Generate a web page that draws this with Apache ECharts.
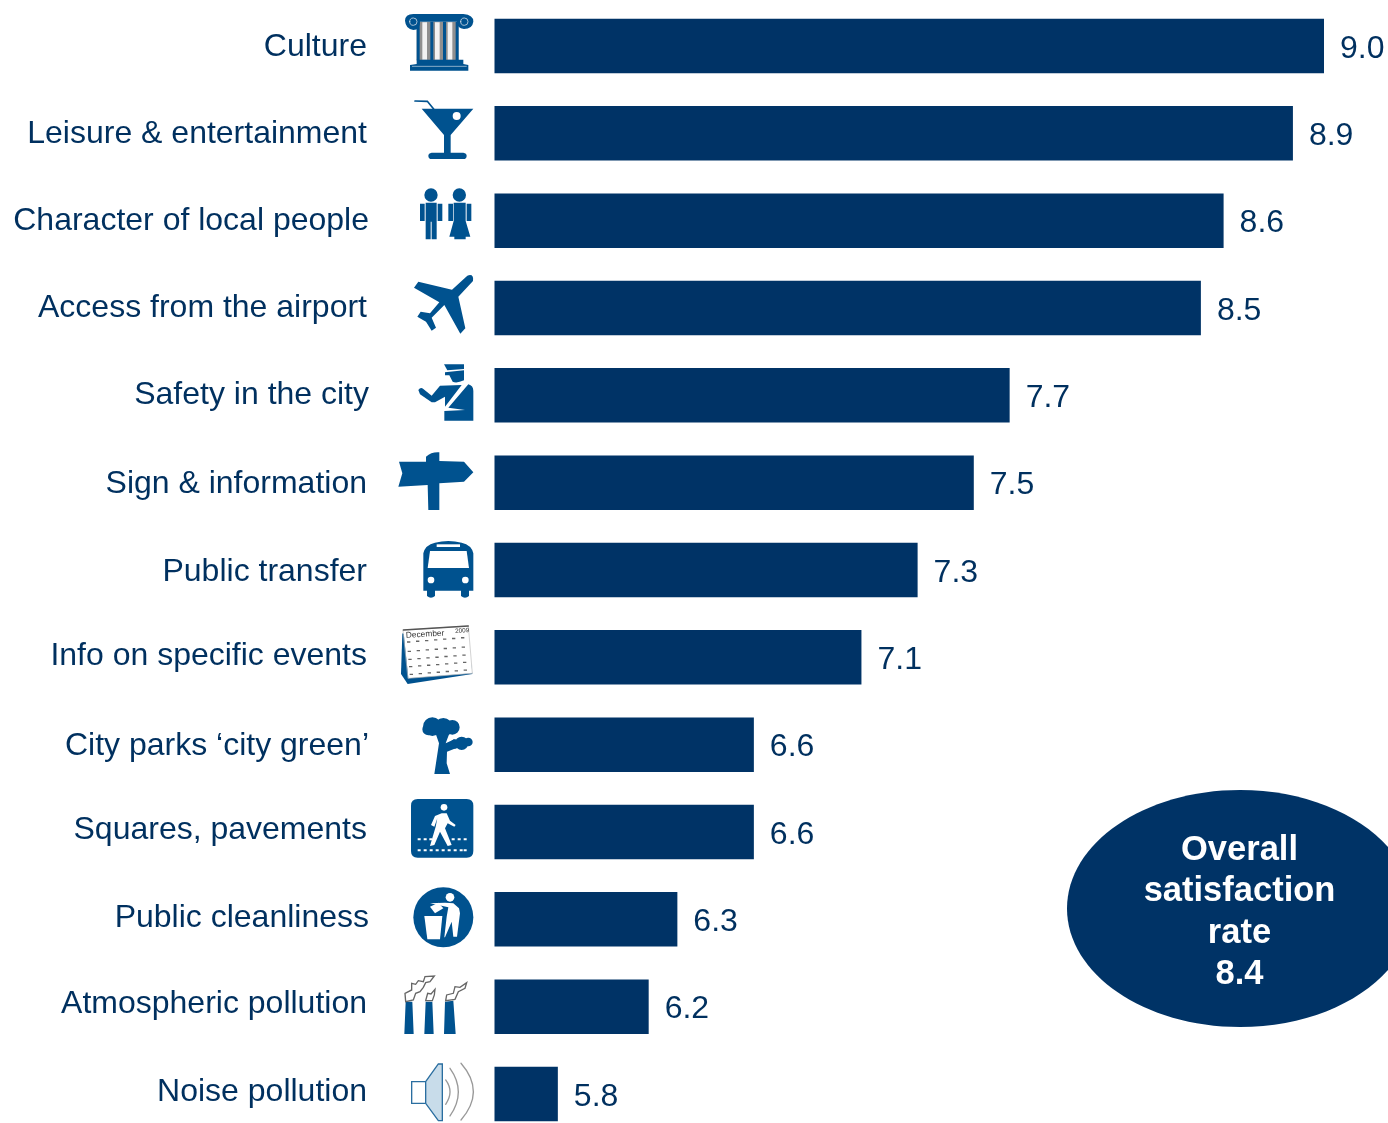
<!DOCTYPE html>
<html>
<head>
<meta charset="utf-8">
<style>html,body{margin:0;padding:0;background:#fff;overflow:hidden}#c{width:1388px;height:1123px}</style>
<script src="https://cdn.jsdelivr.net/npm/echarts@6/dist/echarts.min.js"></script>
</head>
<body>
<div id="c"></div>
<script>
const categories = ['Culture','Leisure & entertainment','Character of local people','Access from the airport','Safety in the city','Sign & information','Public transfer','Info on specific events','City parks ‘city green’','Squares, pavements','Public cleanliness','Atmospheric pollution','Noise pollution'];
const barValues = [9.0,8.87,8.58,8.485,7.685,7.535,7.30,7.065,6.615,6.615,6.295,6.175,5.795];
const valueLabels = ['9.0','8.9','8.6','8.5','7.7','7.5','7.3','7.1','6.6','6.6','6.3','6.2','5.8'];
const overallLines = ['Overall','satisfaction','rate','8.4'];

const NAVY = '#003366', TEXT = '#00305f', BLUE = '#00528f';
const labelUp = [-1,-1,-1,0,0,-2,-2,1,-2,2,1,2,2];
const labelRightGap = [2,2,0,2,0,2,2,2,0,2,0,2,2];

const circ = (cx,cy,r) => `M${cx-r} ${cy}a${r} ${r} 0 1 0 ${2*r} 0a${r} ${r} 0 1 0 ${-2*r} 0Z`;
const dashes = (xs,y,w,h) => xs.map(x => `M${x} ${y}h${w}v${h}h${-w}Z`).join('');

// Each icon: crop origin it was traced in, then [path, fill, stroke, strokeWidth]
const icons = [
 {o:[395,5], p:[
  ['M65 50H190V166H65Z','#8f8f8f'],
  [dashes([82,120,158],52,14,112),'#f2f2f2'],
  [dashes([65,106,144,182],50,9,116),BLUE],
  ['M30 47Q30 28 55 27L205 27Q236 30 235 50Q232 72 207 72Q186 70 186 50L75 50Q75 75 55 75Q32 72 30 47Z',BLUE],
  [circ(55,50,11),'none','#c9d6e2',2.5],[circ(208,50,11),'none','#c9d6e2',2.5],
  ['M65 164H205V177L220 180V197H45V180L65 177Z',BLUE],
  ['M52 184H214','none','#cfdbe6',2]
 ]},
 {o:[395,5], p:[
  ['M60 288L97 289L116 312','none',BLUE,5],
  ['M80 311H235L167 390V443H205Q215 445 215 452Q215 462 205 462H110Q100 462 100 452Q100 445 110 443H147V390Z',BLUE],
  [circ(185,333,12),'#fff']
 ]},
 {o:[395,5], p:[
  [circ(108,570,20)+circ(193,570,20),BLUE],
  ['M92 593H125V703H110V650H107V703H92Z',BLUE],
  ['M75 596H89V648H75ZM128 596H142V648H128Z',BLUE],
  ['M176 593H212V648L226 695H212V703H178V695H163L176 648Z',BLUE],
  ['M160 596H174V648H160ZM215 596H229V648H215Z',BLUE]
 ]},
 {o:[390,265], p:[
  ['M232 32Q252 25 249 48L205 95L226 190L211 206L163 120L125 158L138 188L125 197L108 170L82 155L92 140L120 145L148 112L72 68L85 50L186 74Z',BLUE]
 ]},
 {o:[390,265], p:[
  ['M162 298H222V312L172 316Z',BLUE],
  ['M165 322L222 316V346Q200 356 188 350L178 331L165 331Z',BLUE],
  ['M85 375Q92 365 100 372L125 392L150 362L215 360L165 425V395L135 412H125L90 388Z',BLUE],
  ['M235 358Q250 362 250 378V467H163V438L225 435L175 428Z',BLUE]
 ]},
 {o:[390,265], p:[
  ['M108 575Q125 560 148 562V588L222 590L250 622L222 650L148 655V735H115L113 660L25 665L37 625L27 590L108 590Z',BLUE]
 ]},
 {o:[395,530], p:[
  ['M85 182V70Q90 45 120 38Q160 28 200 38Q230 45 235 70V182H222V198Q210 208 198 198V182H120V198Q108 208 96 198V182Z',BLUE],
  ['M105 63H215L222 114H98Z','#fff'],
  ['M125 43H195V51H125Z','#fff'],
  [circ(108,150,10)+circ(211,150,10),'#fff']
 ]},
 {o:[395,530], cal:true, p:[
  ['M22 310L18 432L38 462L232 432L228 400Z',BLUE],
  ['M25 300L220 288L232 430L40 445Z','#fff','#bdbdbd',2],
  ['M25 300L220 288','none','#555',4],
  [[[36,334],[38,362],[40,386],[42,408],[44,431]].map(([x,y]) => [0,1,2,3,4,5,6].map(i => `M${x+i*27} ${y-i*2.1}h10v4h-10Z`).join('')).join(''),'#666']
 ]},
 {o:[395,530], p:[
  [circ(112,590,28)+circ(145,592,28)+circ(172,592,22)+circ(100,598,18)+circ(200,640,20)+circ(180,642,14)+circ(220,636,13),BLUE],
  ['M118 732L132 640L120 605H165L152 640L178 628L190 652L156 665L155 700L165 732Z',BLUE]
 ]},
 {o:[395,790], p:[
  ['M68 27H215Q235 27 235 47V183Q235 203 215 203H68Q48 203 48 183V47Q48 27 68 27Z',BLUE],
  [circ(147,52,10),'#fff'],
  ['M140 70H155L165 92L182 105L178 110L158 100L150 115L170 165L158 168L135 125L118 165L105 168L122 110L127 85L118 110L108 105L120 78Z','#fff'],
  [dashes([68,86,103,170,188,206],145,9,6),'#fff'],
  [dashes([68,86,104,122,140,158,176,194,206],178,9,6),'#fff']
 ]},
 {o:[395,790], p:[
  [circ(145,382,90),BLUE],
  ['M88 378H142L135 448H97Z','#fff'],
  ['M105 350L130 338L145 355L120 370Z','#fff'],
  [circ(165,322,13),'#fff'],
  ['M105 340L150 338L175 340L192 355L195 370L186 440H175L170 395L150 442H148L155 380L160 352Z','#fff']
 ]},
 {o:[395,790], p:[
  ['M32 635H52L56 732H28ZM92 635H112L116 732H88ZM150 635L175 632L182 732H147Z',BLUE],
  ['M32 635L30 610L50 600V580L62 583L70 572L85 575L90 560L118 558L105 575L92 578L85 592L75 605L62 610L55 630ZM92 632L98 610L108 612L120 598L118 615L112 632ZM152 632L155 615L175 610L180 590L195 592L215 578L210 595L190 605L180 628Z','#fff','#666',4]
 ]},
 {o:[395,790], p:[
  ['M50 875H92V940H50Z','#fff','#2a6ea0',4],
  ['M92 875L130 822H142V992H130L92 940Z','#c8dcea','#2a6ea0',4],
  ['M152 870Q178 905 152 943M165 835Q215 905 165 978M198 820Q272 905 198 990','none','#999',4]
 ]}
];

const iconData = categories.map((c,i) => [i]);

const chart = echarts.init(document.getElementById('c'), null, {renderer:'canvas'});
const AX_MIN = 5.53, AX_MAX = 9.0;
chart.setOption({
  animation:false,
  backgroundColor:'#fff',
  textStyle:{fontFamily:'"Liberation Sans",Arial,sans-serif'},
  grid:{left:494.5, top:2.33, width:829.5, height:1135.3, containLabel:false, outerBoundsMode:'none'},
  xAxis:{type:'value', min:AX_MIN, max:AX_MAX, show:false},
  yAxis:{
    type:'category', inverse:true, data:categories,
    axisLine:{show:false}, axisTick:{show:false},
    axisLabel:{
      margin:125.5, color:TEXT, fontSize:32, align:'right',
      fontFamily:'"Liberation Sans",Arial,sans-serif',
      formatter:(v,i) => `{s${i}|${v}}`,
      rich:Object.fromEntries(categories.map((c,i) => ['s'+i,{
        fontSize:32, color:TEXT, fontFamily:'"Liberation Sans",Arial,sans-serif',
        padding:[Math.max(0,-labelUp[i]*2),labelRightGap[i],Math.max(0,labelUp[i]*2),0]
      }]))
    }
  },
  series:[
    {
      type:'bar', barWidth:54.5, data:barValues,
      itemStyle:{color:NAVY},
      label:{show:true, position:'right', distance:16, offset:[0,3], fontSize:32, color:TEXT,
             fontFamily:'"Liberation Sans",Arial,sans-serif',
             formatter:p => valueLabels[p.dataIndex]},
      silent:true
    },
    {
      type:'custom', clip:false, silent:true, data:iconData,
      encode:{y:0},
      renderItem(params, api){
        const i = params.dataIndex;
        const origin = api.coord([AX_MIN, i]);
        const ic = icons[i];
        const children = ic.p.map(([d,fill,stroke,lw]) => ({
          type:'path', shape:{pathData:d},
          style:{fill:fill, stroke:stroke||null, lineWidth:lw||0, lineCap:'round'}
        }));
        if (ic.cal) {
          children.push({type:'text', rotation:0.06, x:32, y:304, style:{text:'December', fontSize:25, fill:'#333', fontFamily:'"Liberation Sans",Arial,sans-serif'}});
          children.push({type:'text', rotation:0.06, x:180, y:294, style:{text:'2009', fontSize:19, fill:'#333', fontFamily:'"Liberation Sans",Arial,sans-serif'}});
        }
        // Traced crops are at 3x; anchor by bar centre of that row in the trace.
        const traceCentre = [46,133.33,220.67,308,395.33,482.67,570,657.33,744.67,832,919.33,1006.67,1094][i];
        return {
          type:'group',
          x: ic.o[0] + (origin[0]-494.5),
          y: origin[1] + ic.o[1] - traceCentre,
          scaleX:1/3, scaleY:1/3,
          children
        };
      }
    }
  ],
  graphic:[
    {type:'ellipse', shape:{cx:1240, cy:908.5, rx:173, ry:118.5}, style:{fill:NAVY}, silent:true},
    {type:'text', x:1239.5, y:829.5, style:{
      text:overallLines.join('\n'), fill:'#fff', fontSize:34.5, fontWeight:'bold', align:'center',
      lineHeight:41.5, fontFamily:'"Liberation Sans",Arial,sans-serif'}, silent:true}
  ]
});
</script>
</body>
</html>
